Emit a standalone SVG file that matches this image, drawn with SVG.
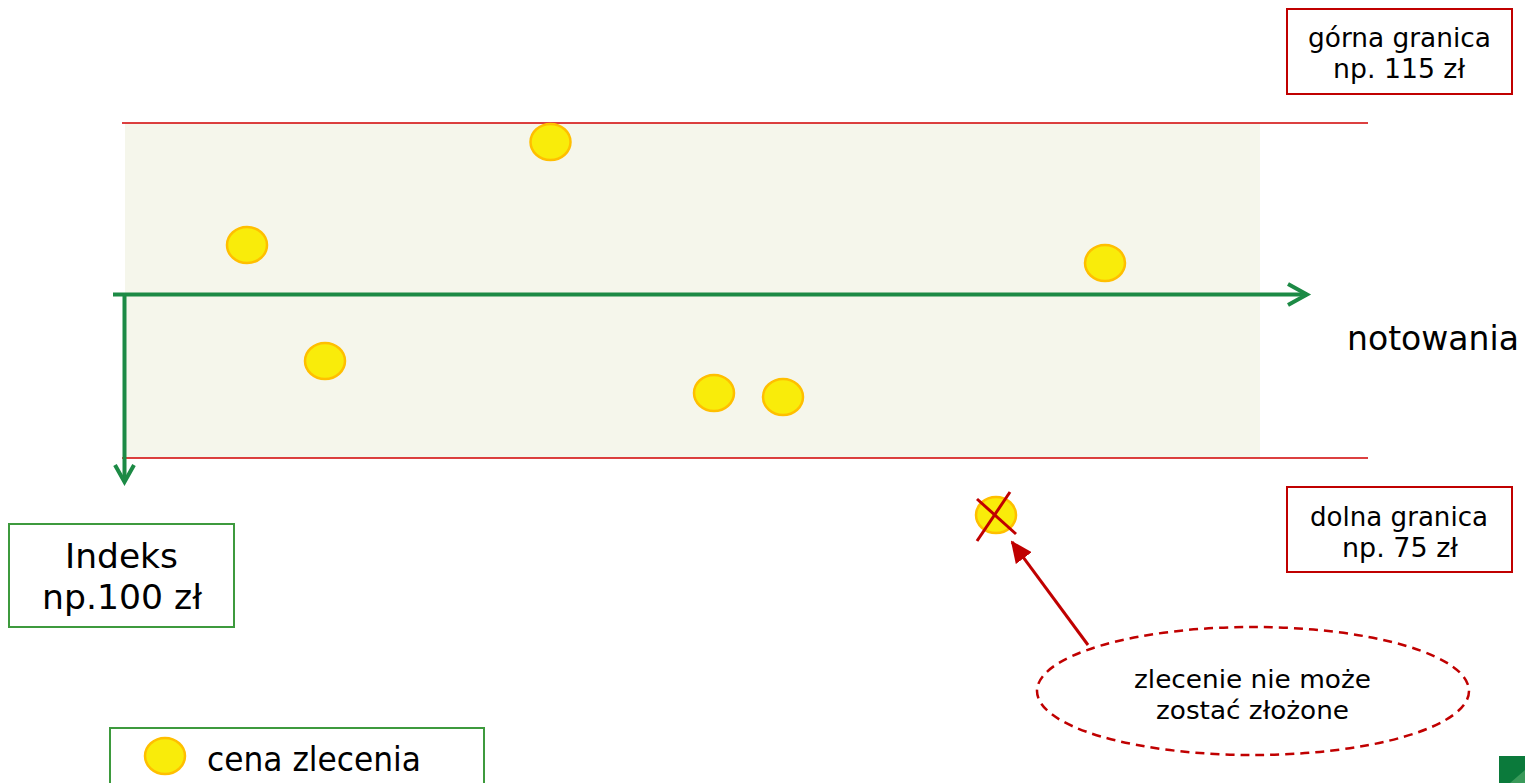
<svg xmlns="http://www.w3.org/2000/svg" width="1525" height="783" viewBox="0 0 1525 783">
<style>
text{font-family:"DejaVu Sans","Verdana",sans-serif;fill:#000;text-anchor:middle}
.dot{fill:#f9ec0a;stroke:#ffbf00;stroke-width:2.5}
.redbox{fill:#fff;stroke:#c00000;stroke-width:2}
.greenbox{fill:#fff;stroke:#3d9a3d;stroke-width:2}
.limit{stroke:#d00000;stroke-width:1.5}
.axis{stroke:#1c8a45;stroke-width:4;fill:none}
.red{stroke:#c00000;stroke-width:3;fill:none}
</style>
<defs>
<marker id="redhead" markerWidth="22" markerHeight="20" refX="20" refY="10" orient="auto" markerUnits="userSpaceOnUse" viewBox="0 0 22 20">
<path d="M0,0 L22,10 L0,20 z" fill="#c00000"/>
</marker>
</defs>
<rect width="1525" height="783" fill="#fff"/>
<rect id="band" x="125" y="123" width="1135" height="335" fill="#f5f6eb"/>
<g id="limits">
<line class="limit" x1="122" y1="123" x2="1368" y2="123"/>
<line class="limit" x1="122" y1="458" x2="1368" y2="458"/>
</g>
<g id="connectors">
<line class="axis" x1="113" y1="294.5" x2="1307" y2="294.5"/>
<polyline class="axis" points="1288,284 1307,294.5 1288,305"/>
<line class="axis" x1="124.5" y1="294" x2="124.5" y2="481" stroke="#2e9440"/>
<polyline class="axis" points="115,465 124.5,482 134,465" stroke="#2e9440"/>
<line class="red" x1="1088" y1="645" x2="1012" y2="542" marker-end="url(#redhead)"/>
</g>
<g id="dots">
<ellipse class="dot" cx="550.5" cy="142" rx="20" ry="18"/>
<ellipse class="dot" cx="247" cy="245" rx="20" ry="18"/>
<ellipse class="dot" cx="1105" cy="263" rx="20" ry="18"/>
<ellipse class="dot" cx="325" cy="361" rx="20" ry="18"/>
<ellipse class="dot" cx="714" cy="393" rx="20" ry="18"/>
<ellipse class="dot" cx="783" cy="397" rx="20" ry="18"/>
</g>
<g id="rejected">
<ellipse class="dot" cx="996" cy="515" rx="20" ry="18"/>
<line class="red" x1="977" y1="499" x2="1016" y2="534"/>
<line class="red" x1="1010" y1="492" x2="977" y2="541"/>
</g>
<g id="upper">
<rect class="redbox" x="1287" y="9" width="225" height="85"/>
<text x="1399.5" y="47" font-size="26" textLength="183" lengthAdjust="spacingAndGlyphs">górna granica</text>
<text x="1399" y="78" font-size="26" textLength="132" lengthAdjust="spacingAndGlyphs">np. 115 zł</text>
</g>
<g id="lower">
<rect class="redbox" x="1287" y="487" width="225" height="85"/>
<text x="1399" y="526" font-size="26" textLength="178" lengthAdjust="spacingAndGlyphs">dolna granica</text>
<text x="1400" y="557" font-size="26" textLength="116" lengthAdjust="spacingAndGlyphs">np. 75 zł</text>
</g>
<g id="index">
<rect class="greenbox" x="9" y="524" width="225" height="103"/>
<text x="121.5" y="568" font-size="33" textLength="113" lengthAdjust="spacingAndGlyphs">Indeks</text>
<text x="122" y="609" font-size="33" textLength="160" lengthAdjust="spacingAndGlyphs">np.100 zł</text>
</g>
<g id="notowania">
<text x="1433" y="350" font-size="34" textLength="172" lengthAdjust="spacingAndGlyphs">notowania</text>
</g>
<g id="note">
<ellipse cx="1253" cy="691" rx="216" ry="64" fill="none" stroke="#c00000" stroke-width="2.5" stroke-dasharray="9,6"/>
<text x="1252.5" y="688" font-size="24" textLength="237" lengthAdjust="spacingAndGlyphs">zlecenie nie może</text>
<text x="1252.5" y="719" font-size="24" textLength="193" lengthAdjust="spacingAndGlyphs">zostać złożone</text>
</g>
<g id="legend">
<rect class="greenbox" x="110" y="728" width="374" height="70"/>
<ellipse class="dot" cx="165" cy="756" rx="20" ry="18"/>
<text x="314" y="771" font-size="33" textLength="214" lengthAdjust="spacingAndGlyphs">cena zlecenia</text>
</g>
<g id="corner">
<rect x="1499" y="756" width="26" height="27" fill="#0b7a3b"/>
<path d="M1525,770 L1525,783 L1510,783 z" fill="#3a9a5a"/>
</g>
</svg>
